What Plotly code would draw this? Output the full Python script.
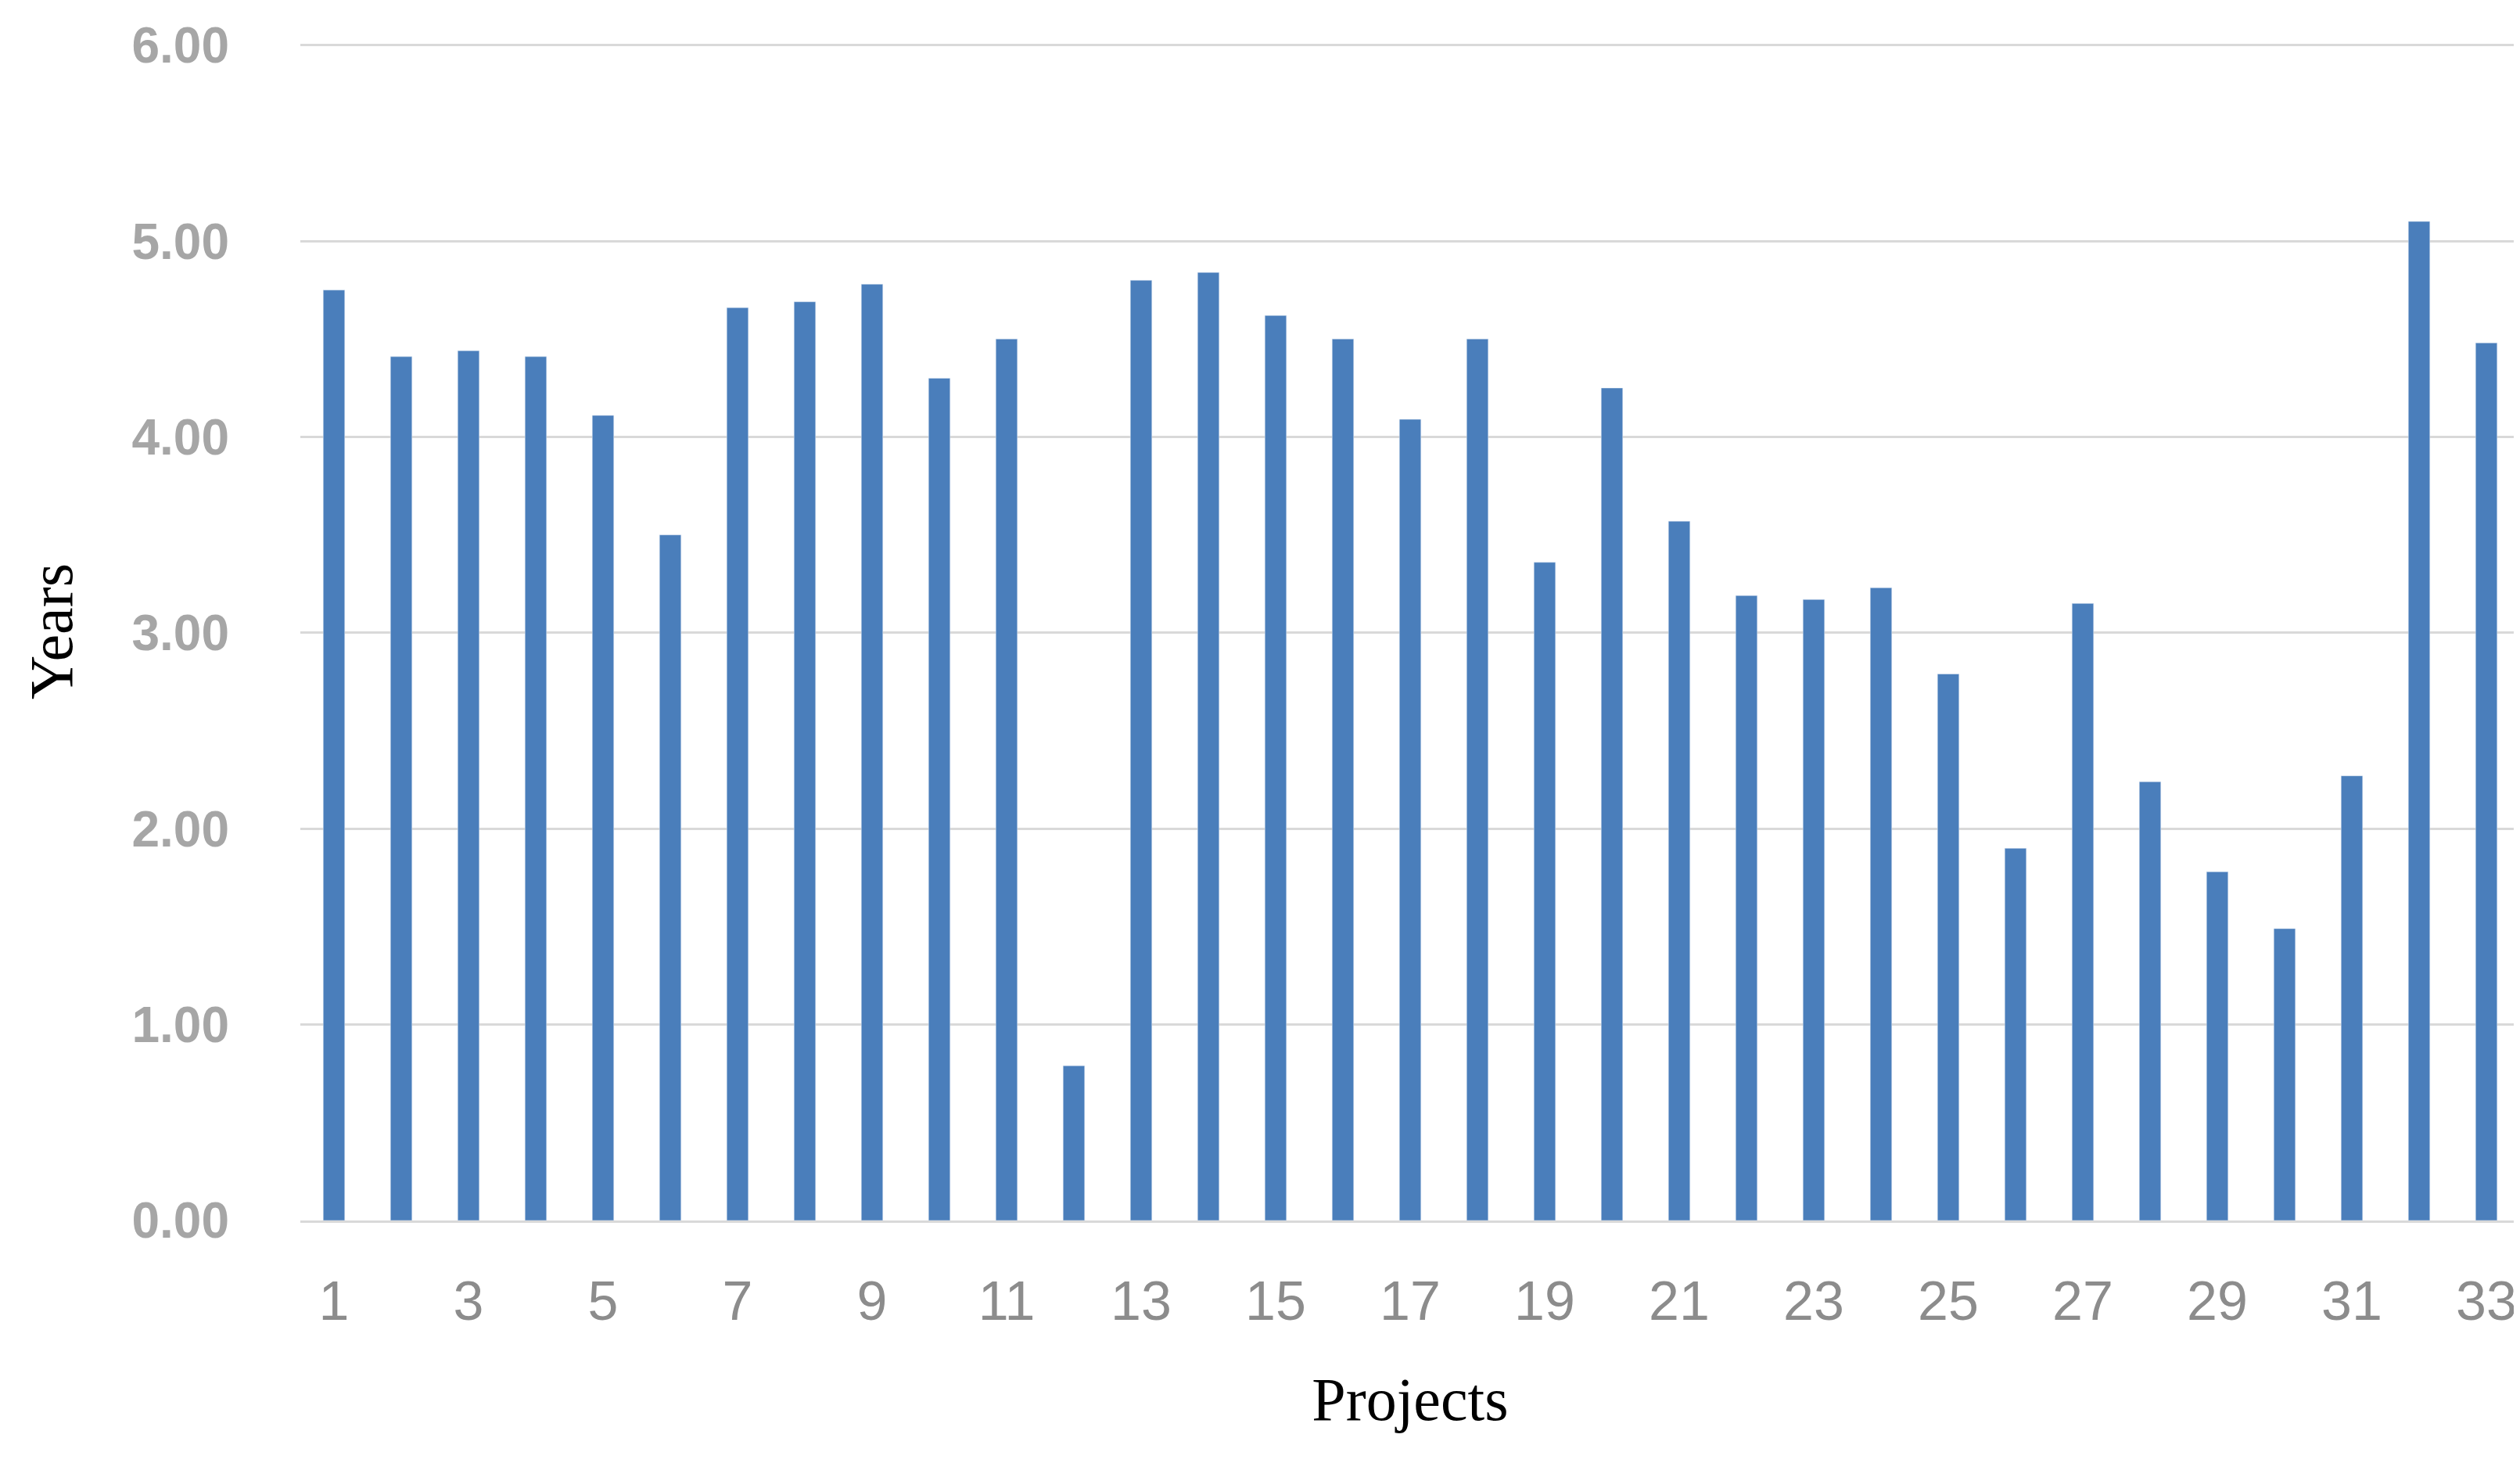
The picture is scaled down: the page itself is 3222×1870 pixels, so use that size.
import plotly.graph_objects as go

projects = list(range(1, 34))
years = [4.75, 4.41, 4.44, 4.41, 4.11, 3.50, 4.66, 4.69, 4.78, 4.30, 4.50, 0.79,
         4.80, 4.84, 4.62, 4.50, 4.09, 4.50, 3.36, 4.25, 3.57, 3.19, 3.17, 3.23,
         2.79, 1.90, 3.15, 2.24, 1.78, 1.49, 2.27, 5.10, 4.48]
y_ticks = [0, 1, 2, 3, 4, 5, 6]

fig = go.Figure(go.Bar(x=projects, y=years, marker_color="#4a7ebb", width=0.32))

fig.update_layout(
    width=3222, height=1870,
    margin=dict(l=376, r=8, t=46, b=318),
    plot_bgcolor="white", paper_bgcolor="white",
    showlegend=False,
)
fig.update_yaxes(
    range=[0, 6.015], tickvals=y_ticks, ticktext=[f"<b>{v:.2f}</b>" for v in y_ticks],
    tickfont=dict(family="Liberation Sans", size=64, color="#a6a6a6"),
    ticklabelstandoff=90, gridcolor="#d9d9d9", gridwidth=3, zeroline=False,
    title=dict(text="Years", font=dict(family="Liberation Serif", size=78, color="black"), standoff=50),
)
fig.update_xaxes(
    range=[0.5, 33.5], tickvals=projects[::2],
    tickfont=dict(family="Liberation Sans", size=70, color="#8c8c8c"),
    ticklabelstandoff=40, showline=True, linecolor="#d9d9d9", linewidth=3,
    title=dict(text="Projects", font=dict(family="Liberation Serif", size=78, color="black"), standoff=60),
)
fig.write_html("out.html")
